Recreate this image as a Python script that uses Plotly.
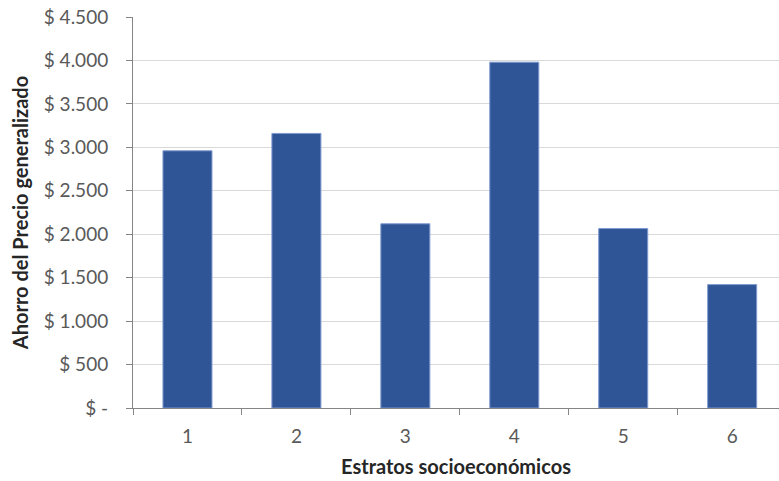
import plotly.graph_objects as go

categories = ["1", "2", "3", "4", "5", "6"]
values = [2960, 3160, 2120, 3980, 2065, 1420]
y_tick_vals = [0, 500, 1000, 1500, 2000, 2500, 3000, 3500, 4000, 4500]
y_tick_text = ["$ -", "$ 500", "$ 1.000", "$ 1.500", "$ 2.000", "$ 2.500",
               "$ 3.000", "$ 3.500", "$ 4.000", "$ 4.500"]

fig = go.Figure(go.Bar(
    x=categories, y=values,
    marker=dict(color="#2F5597", line=dict(color="#7F9AD0", width=1)),
))

fig.update_layout(
    width=779, height=481,
    margin=dict(l=133, r=0, t=17, b=73, autoexpand=False),
    paper_bgcolor="white", plot_bgcolor="white",
    bargap=0.55,
    showlegend=False,
    font=dict(family="Lato, Open Sans, sans-serif", color="#595959", size=19),
)
fig.update_xaxes(
    type="category", range=[-0.5, 5.43],
    automargin=False,
    showline=True, linecolor="#868686", linewidth=1,
    ticks="outside", tickson="boundaries", ticklen=6, tickcolor="#868686",
    ticklabelstandoff=11,
    showgrid=False,
    title=dict(text="<b>Estratos socioeconómicos</b>", font=dict(size=20, color="#262626"), standoff=14),
)
fig.update_yaxes(
    range=[0, 4500],
    automargin=False,
    tickvals=y_tick_vals, ticktext=y_tick_text,
    ticklabeloverflow="allow",
    showline=True, linecolor="#868686", linewidth=1,
    ticks="outside", ticklen=6, tickcolor="#868686",
    ticklabelstandoff=14,
    showgrid=True, gridcolor="#D9D9D9", gridwidth=1,
    zeroline=False,
    title=dict(text="<b>Ahorro del Precio generalizado</b>", font=dict(size=20, color="#262626"), standoff=9),
)

fig.write_html(
    "out.html",
    config={"displayModeBar": False},
    post_script="document.body.style.margin='0';document.body.style.overflow='hidden';",
)
